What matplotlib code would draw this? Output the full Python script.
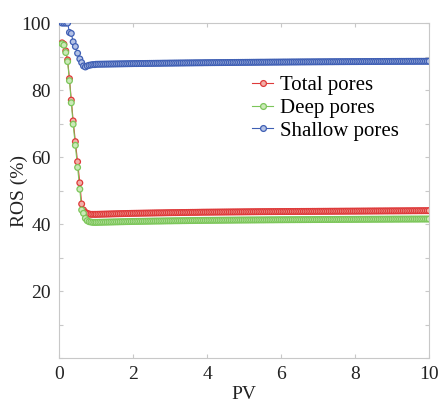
import matplotlib
matplotlib.use('Agg')
import matplotlib.pyplot as plt
import numpy as np

plt.rcParams['font.family'] = ['Liberation Serif', 'DejaVu Serif']

pv_early = [0.08, 0.13, 0.18, 0.23, 0.28, 0.33, 0.38, 0.44, 0.50, 0.56,
            0.61, 0.66, 0.71, 0.76, 0.81, 0.86, 0.91, 0.96]
# later PV steps, 0.05 apart
pv_late = np.round(np.arange(1.0, 10.001, 0.05), 2)

total_early = [94.1, 93.7, 91.7, 89.0, 83.4, 77.0, 70.8, 64.6, 58.6, 52.3,
               46.0, 44.2, 43.5, 43.2, 43.0, 42.9, 42.9, 42.9]
deep_early = [93.8, 93.4, 91.2, 88.5, 82.8, 76.2, 69.8, 63.5, 56.9, 50.4,
              44.2, 43.2, 41.7, 41.0, 40.7, 40.6, 40.5, 40.5]
shallow_early = [100.0, 100.0, 100.0, 100.0, 97.2, 96.9, 94.4, 93.0, 91.0, 89.3,
                 88.2, 87.2, 86.9, 87.2, 87.4, 87.5, 87.6, 87.6]

total_late = [
    42.90, 42.92, 42.93, 42.95, 42.96, 42.98, 42.99, 43.01, 43.02, 43.04,
    43.05, 43.07, 43.08, 43.10, 43.11, 43.13, 43.14, 43.16, 43.17, 43.19,
    43.20, 43.21, 43.22, 43.23, 43.24, 43.25, 43.26, 43.27, 43.28, 43.29,
    43.30, 43.31, 43.32, 43.33, 43.34, 43.34, 43.35, 43.36, 43.37, 43.38,
    43.39, 43.40, 43.41, 43.41, 43.42, 43.43, 43.44, 43.45, 43.45, 43.46,
    43.47, 43.48, 43.49, 43.49, 43.50, 43.51, 43.52, 43.53, 43.54, 43.54,
    43.55, 43.55, 43.56, 43.56, 43.57, 43.57, 43.58, 43.58, 43.59, 43.59,
    43.60, 43.60, 43.61, 43.61, 43.62, 43.62, 43.63, 43.63, 43.64, 43.64,
    43.65, 43.65, 43.66, 43.66, 43.67, 43.67, 43.68, 43.68, 43.69, 43.69,
    43.70, 43.70, 43.70, 43.71, 43.71, 43.71, 43.72, 43.72, 43.72, 43.73,
    43.73, 43.73, 43.74, 43.74, 43.74, 43.75, 43.75, 43.75, 43.76, 43.76,
    43.76, 43.77, 43.77, 43.77, 43.78, 43.78, 43.78, 43.79, 43.79, 43.79,
    43.80, 43.80, 43.80, 43.81, 43.81, 43.81, 43.82, 43.82, 43.82, 43.83,
    43.83, 43.83, 43.84, 43.84, 43.84, 43.85, 43.85, 43.85, 43.86, 43.86,
    43.86, 43.87, 43.87, 43.87, 43.88, 43.88, 43.88, 43.89, 43.89, 43.89,
    43.90, 43.90, 43.90, 43.91, 43.91, 43.91, 43.92, 43.92, 43.92, 43.93,
    43.93, 43.93, 43.94, 43.94, 43.94, 43.95, 43.95, 43.95, 43.96, 43.96,
    43.96, 43.97, 43.97, 43.97, 43.98, 43.98, 43.98, 43.99, 43.99, 43.99,
    44.00]
deep_late = [
    40.50, 40.51, 40.53, 40.54, 40.56, 40.57, 40.58, 40.60, 40.61, 40.62,
    40.64, 40.65, 40.66, 40.68, 40.69, 40.70, 40.72, 40.73, 40.74, 40.76,
    40.77, 40.78, 40.79, 40.80, 40.81, 40.82, 40.83, 40.84, 40.85, 40.86,
    40.87, 40.88, 40.89, 40.90, 40.90, 40.91, 40.92, 40.93, 40.94, 40.95,
    40.95, 40.96, 40.97, 40.98, 40.98, 40.99, 41.00, 41.01, 41.01, 41.02,
    41.03, 41.04, 41.04, 41.05, 41.06, 41.07, 41.07, 41.08, 41.09, 41.10,
    41.10, 41.11, 41.11, 41.12, 41.12, 41.13, 41.13, 41.14, 41.14, 41.15,
    41.15, 41.16, 41.16, 41.17, 41.17, 41.18, 41.18, 41.19, 41.19, 41.20,
    41.20, 41.20, 41.21, 41.21, 41.22, 41.22, 41.22, 41.23, 41.23, 41.24,
    41.24, 41.24, 41.25, 41.25, 41.26, 41.26, 41.26, 41.27, 41.27, 41.28,
    41.28, 41.28, 41.29, 41.29, 41.29, 41.30, 41.30, 41.30, 41.31, 41.31,
    41.31, 41.32, 41.32, 41.32, 41.33, 41.33, 41.33, 41.34, 41.34, 41.34,
    41.35, 41.35, 41.35, 41.36, 41.36, 41.36, 41.37, 41.37, 41.37, 41.38,
    41.38, 41.38, 41.39, 41.39, 41.39, 41.40, 41.40, 41.40, 41.40, 41.41,
    41.41, 41.41, 41.42, 41.42, 41.42, 41.42, 41.43, 41.43, 41.43, 41.44,
    41.44, 41.44, 41.44, 41.45, 41.45, 41.45, 41.45, 41.46, 41.46, 41.46,
    41.46, 41.47, 41.47, 41.47, 41.47, 41.48, 41.48, 41.48, 41.48, 41.48,
    41.49, 41.49, 41.49, 41.49, 41.49, 41.50, 41.50, 41.50, 41.50, 41.50,
    41.50]
shallow_late = [
    87.70, 87.71, 87.72, 87.73, 87.74, 87.75, 87.76, 87.77, 87.78, 87.79,
    87.80, 87.81, 87.82, 87.83, 87.84, 87.85, 87.86, 87.87, 87.88, 87.89,
    87.90, 87.91, 87.91, 87.92, 87.93, 87.94, 87.94, 87.95, 87.96, 87.97,
    87.97, 87.98, 87.99, 88.00, 88.00, 88.01, 88.02, 88.03, 88.03, 88.04,
    88.05, 88.05, 88.06, 88.07, 88.07, 88.08, 88.09, 88.09, 88.10, 88.11,
    88.11, 88.12, 88.12, 88.13, 88.14, 88.14, 88.15, 88.15, 88.16, 88.17,
    88.17, 88.18, 88.18, 88.19, 88.19, 88.20, 88.20, 88.21, 88.21, 88.22,
    88.22, 88.23, 88.23, 88.24, 88.24, 88.25, 88.25, 88.26, 88.26, 88.27,
    88.27, 88.28, 88.28, 88.29, 88.29, 88.30, 88.30, 88.31, 88.31, 88.32,
    88.32, 88.32, 88.33, 88.33, 88.34, 88.34, 88.35, 88.35, 88.35, 88.36,
    88.36, 88.37, 88.37, 88.37, 88.38, 88.38, 88.39, 88.39, 88.39, 88.40,
    88.40, 88.41, 88.41, 88.41, 88.42, 88.42, 88.42, 88.43, 88.43, 88.43,
    88.44, 88.44, 88.44, 88.45, 88.45, 88.45, 88.46, 88.46, 88.46, 88.47,
    88.47, 88.47, 88.48, 88.48, 88.48, 88.49, 88.49, 88.49, 88.50, 88.50,
    88.50, 88.50, 88.51, 88.51, 88.51, 88.52, 88.52, 88.52, 88.52, 88.53,
    88.53, 88.53, 88.54, 88.54, 88.54, 88.54, 88.55, 88.55, 88.55, 88.55,
    88.56, 88.56, 88.56, 88.56, 88.57, 88.57, 88.57, 88.57, 88.58, 88.58,
    88.58, 88.58, 88.58, 88.59, 88.59, 88.59, 88.59, 88.59, 88.60, 88.60,
    88.60]

labels = ['Total pores', 'Deep pores', 'Shallow pores']
colors = ['#de3a3a', '#7cc65a', '#3f5fb4']
faces = ['#f2b0a8', '#cbe9b8', '#b4c2e6']

pv = np.concatenate([pv_early, pv_late])
series = [total_early + total_late, deep_early + deep_late,
          shallow_early + shallow_late]

fig = plt.figure(figsize=(4.41, 4.05), dpi=100)
ax = fig.add_axes([0.134, 0.116, 0.839, 0.827])

handles = []
for y, lab, c, fc in zip(series, labels, colors, faces):
    ax.plot(pv, y, '-', color=c, lw=0.8)
    # per-point colour lists stop agg from snapping markers to whole pixels
    n = len(pv)
    ax.scatter(pv, y, s=17, marker='o', facecolors=[fc] * n,
               edgecolors=[c] * n, linewidths=0.9, zorder=3)
    h, = ax.plot([], [], '-o', color=c, lw=0.8, ms=4.2, mew=0.9,
                 mfc=fc, mec=c, label=lab)
    handles.append(h)

ax.set_xlim(0, 10)
ax.set_ylim(0, 100)
ax.set_xticks([0, 2, 4, 6, 8, 10])
ax.set_yticks(np.arange(0, 101, 10))
ax.set_yticklabels(['' if v % 20 or v == 0 else str(v) for v in range(0, 101, 10)])

for s in ax.spines.values():
    s.set_color('#c8c8c8')
    s.set_linewidth(0.8)
ax.tick_params(direction='in', top=True, right=True, length=3,
               color='#c8c8c8', labelsize=14, labelcolor='#222222', pad=6)

ax.set_xlabel('PV', fontsize=14, color='#222222', labelpad=2)
ax.set_ylabel('ROS (%)', fontsize=14, color='#222222')
ax.yaxis.set_label_coords(-0.085, 0.5)

ax.legend(handles=handles, loc='upper left', bbox_to_anchor=(0.5, 0.868),
          frameon=False, fontsize=15, handlelength=1.0, handletextpad=0.3,
          labelspacing=0.15, borderaxespad=0)

fig.savefig('out.png', dpi=100)
